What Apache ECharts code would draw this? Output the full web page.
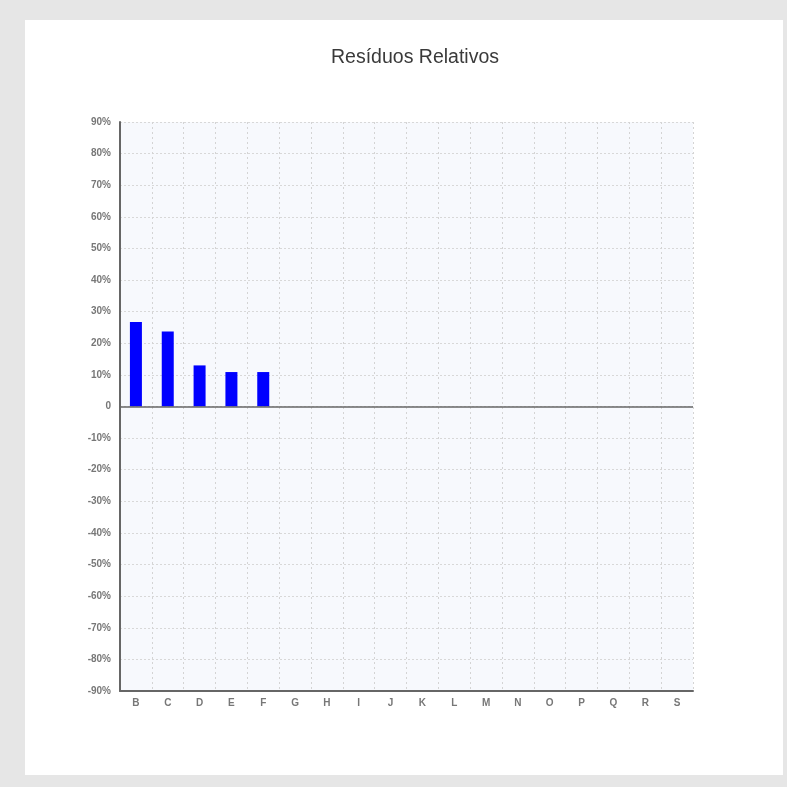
<!DOCTYPE html>
<html>
<head>
<meta charset="utf-8">
<script src="https://cdn.jsdelivr.net/npm/echarts@6/dist/echarts.min.js"></script>
<style>
html,body{margin:0;padding:0;background:#e6e6e6;}
#c{width:787px;height:787px;}
</style>
</head>
<body>
<div id="c"></div>
<script>
const categories = ['B','C','D','E','F','G','H','I','J','K','L','M','N','O','P','Q','R','S'];
const residuals = [26.7, 23.7, 13.0, 10.9, 10.9, null, null, null, null, null, null, null, null, null, null, null, null, null];
const chartTitle = 'Resíduos Relativos';

const chart = echarts.init(document.getElementById('c'));
chart.setOption({
  backgroundColor: '#e6e6e6',
  animation: false,
  graphic: [{
    type: 'rect', left: 25, top: 20, z: -10,
    shape: { width: 758, height: 755 },
    style: { fill: '#ffffff' }
  }],
  title: {
    text: chartTitle,
    left: 326, top: 43,
    textStyle: { fontFamily: 'Liberation Sans, Arial, sans-serif', fontSize: 19.5, fontWeight: 'normal', color: '#3a3a3a' }
  },
  grid: {
    left: 120, right: 94, top: 122, bottom: 96,
    show: true, backgroundColor: '#f7f9fd', borderWidth: 0
  },
  xAxis: {
    type: 'category',
    data: categories,
    axisLine: { onZero: false, lineStyle: { color: '#666', width: 2 } },
    axisTick: { show: false },
    axisLabel: { color: '#777', fontSize: 10, fontWeight: 'bold', fontFamily: 'Liberation Sans, Arial, sans-serif', margin: 7 },
    splitLine: { show: true, lineStyle: { color: '#d4d4d4', type: [2, 3], width: 1 } }
  },
  yAxis: {
    type: 'value',
    min: -90, max: 90, interval: 10,
    axisLine: { show: true, lineStyle: { color: '#666', width: 2 } },
    axisTick: { show: false },
    axisLabel: {
      color: '#777', fontSize: 10, fontWeight: 'bold', fontFamily: 'Liberation Sans, Arial, sans-serif',
      margin: 9,
      formatter: v => v === 0 ? '0' : v + '%'
    },
    splitLine: { show: true, lineStyle: { color: '#d8d8d8', type: [2, 2], width: 1 } }
  },
  series: [{
    type: 'bar',
    data: residuals,
    barWidth: 12,
    itemStyle: { color: '#0000ff' },
    markLine: {
      silent: true, symbol: 'none', label: { show: false },
      lineStyle: { color: '#666', type: 'solid', width: 1.5 },
      data: [{ yAxis: 0 }]
    }
  }]
});
</script>
</body>
</html>
